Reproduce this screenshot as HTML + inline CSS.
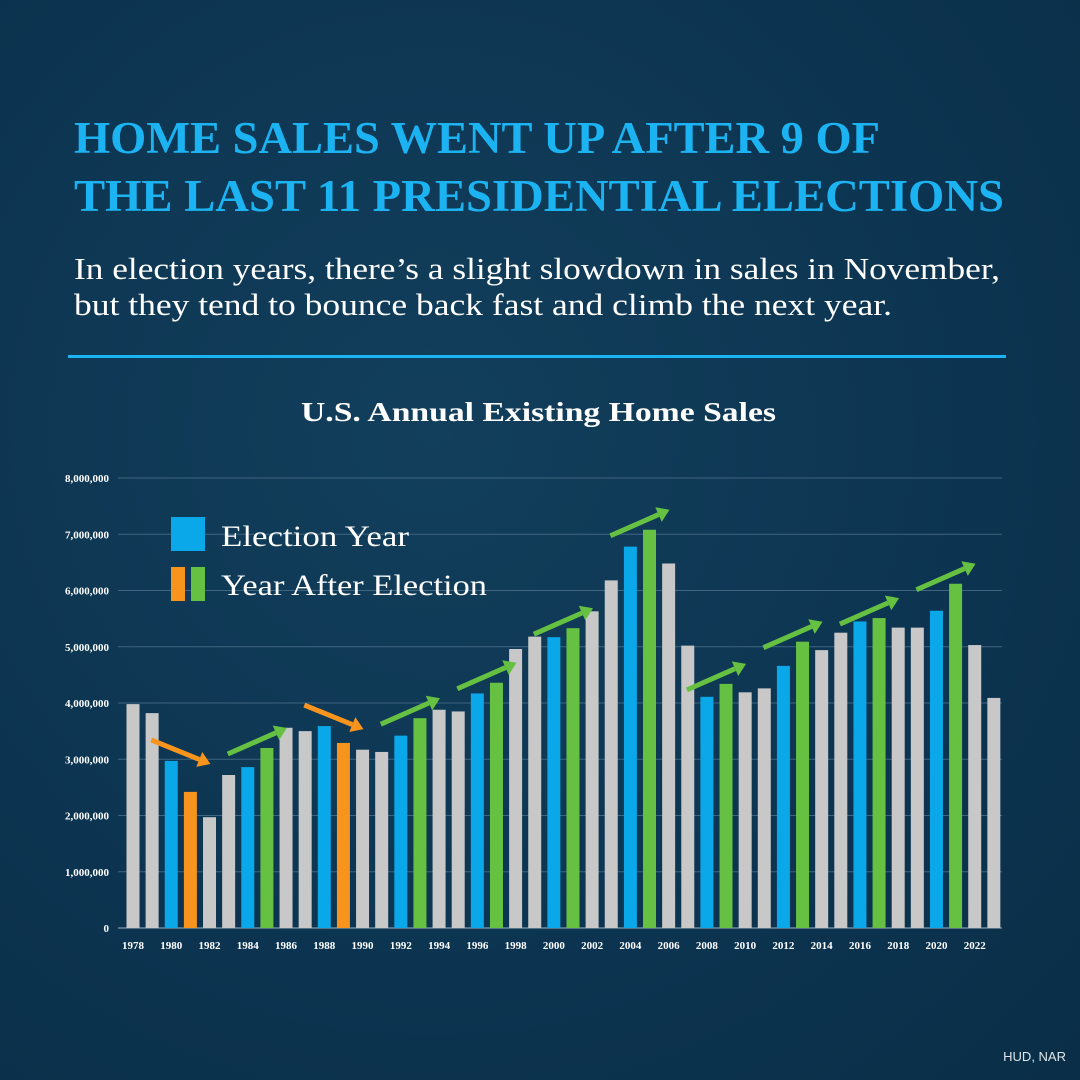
<!DOCTYPE html>
<html><head><meta charset="utf-8"><style>
html,body{margin:0;padding:0}
body{width:1080px;height:1080px;overflow:hidden;background:radial-gradient(ellipse at 40% 40%,#123f5c 0%,#0c3450 60%,#0a2e47 100%);font-family:"Liberation Serif",serif;position:relative}
.rule{position:absolute;left:68px;top:355px;width:938px;height:3px;background:#1cb3f2}
.src{position:absolute;right:14px;bottom:16px;color:#dfe6ea;font-family:"Liberation Sans",sans-serif;font-size:13px}
svg{position:absolute;left:0;top:0}
</style></head><body>
<div class="rule"></div>
<div class="src">HUD, NAR</div>
<svg width="1080" height="360" style="font-family:'Liberation Serif',serif">
<text x="74" y="153" fill="#1cb3f2" font-size="45" font-weight="bold" textLength="806" lengthAdjust="spacingAndGlyphs">HOME SALES WENT UP AFTER 9 OF</text>
<text x="74" y="211" fill="#1cb3f2" font-size="45" font-weight="bold" textLength="930" lengthAdjust="spacingAndGlyphs">THE LAST 11 PRESIDENTIAL ELECTIONS</text>
<text x="74" y="279" fill="#fff" font-size="31" textLength="926" lengthAdjust="spacingAndGlyphs">In election years, there’s a slight slowdown in sales in November,</text>
<text x="74" y="315" fill="#fff" font-size="31" textLength="818" lengthAdjust="spacingAndGlyphs">but they tend to bounce back fast and climb the next year.</text>
</svg>
<svg id="chart" width="1080" height="1080"></svg>
<script>
const years=[];for(let y=1978;y<=2023;y++)years.push(y);
const sales=[3.98,3.82,2.97,2.42,1.97,2.72,2.86,3.20,3.56,3.50,3.59,3.29,3.17,3.13,3.42,3.73,3.88,3.85,4.17,4.36,4.96,5.18,5.17,5.33,5.63,6.18,6.78,7.08,6.48,5.02,4.11,4.34,4.19,4.26,4.66,5.09,4.94,5.25,5.45,5.51,5.34,5.34,5.64,6.12,5.03,4.09];
const electionYears=[1980,1984,1988,1992,1996,2000,2004,2008,2012,2016,2020];
const declineAfter=[1981,1989];
const yTicks=[0,1,2,3,4,5,6,7,8];
const NS="http://www.w3.org/2000/svg";
const svg=document.getElementById('chart');
const x0=133,step=19.13,bw=13,yBase=928,pxPerM=56.25;
const X=i=>x0+i*step;
const Y=v=>yBase-v*pxPerM;
function mk(tag,attrs){const e=document.createElementNS(NS,tag);for(const k in attrs)e.setAttribute(k,attrs[k]);svg.appendChild(e);return e;}
let t=mk('text',{x:301,y:421,fill:'#fff','font-size':27,'font-weight':'bold','font-family':'Liberation Serif, serif',textLength:475,lengthAdjust:'spacingAndGlyphs'});
t.textContent='U.S. Annual Existing Home Sales';


yTicks.forEach(v=>{
 const g=mk('line',{x1:118,x2:1002,y1:Y(v),y2:Y(v),stroke:v===0?'#9fb3c0':'#3f6580','stroke-width':1});
 
 
 const l=mk('text',{x:109,y:Y(v)+4,'text-anchor':'end',fill:'#fff','font-size':11,'font-weight':'bold','font-family':'Liberation Serif, serif'});
 l.textContent=(v*1000000).toLocaleString('en-US');
 
 
});
years.forEach((yr,i)=>{
 let c='#c8c8c8';
 if(electionYears.includes(yr))c='#0aa8e8';
 else if(electionYears.includes(yr-1))c=declineAfter.includes(yr)?'#f7941d':'#66c142';
 const r=mk('rect',{x:X(i)-bw/2,y:Y(sales[i]),width:bw,height:sales[i]*pxPerM,fill:c});
 
 
 if(yr%2===0){
  const l=mk('text',{x:X(i),y:949,'text-anchor':'middle',fill:'#fff','font-size':11,'font-weight':'bold','font-family':'Liberation Serif, serif'});
  l.textContent=yr;
  
  
 }
});
electionYears.forEach(ey=>{
 const i=years.indexOf(ey);if(i<0||i+1>=years.length)return;
 const down=declineAfter.includes(ey+1);
 const col=down?'#f7941d':'#66c142';
 const xs=X(i)-20,xe=X(i+1)+20;
 let ys,ye;
 if(down){ys=Y(sales[i])-21;ye=ys+24;}
 else{ye=Y(sales[i+1])-20;ys=ye+26;}
 const ang=Math.atan2(ye-ys,xe-xs);
 const hx=xe-12*Math.cos(ang),hy=ye-12*Math.sin(ang);
 const ln=mk('line',{x1:xs,y1:ys,x2:hx,y2:hy,stroke:col,'stroke-width':5});
 
 
 const px=-Math.sin(ang),py=Math.cos(ang);
 const hd=mk('polygon',{points:`${xe},${ye} ${hx+8*px},${hy+8*py} ${hx-8*px},${hy-8*py}`,fill:col});
 
 
});
let lg=mk('rect',{x:171,y:517,width:34,height:34,fill:'#0aa8e8'});


lg=mk('rect',{x:171,y:567,width:14,height:34,fill:'#f7941d'});


lg=mk('rect',{x:191,y:567,width:14,height:34,fill:'#66c142'});


let lt=mk('text',{x:221,y:546,fill:'#fff','font-size':30,'font-family':'Liberation Serif, serif',textLength:188,lengthAdjust:'spacingAndGlyphs'});
lt.textContent='Election Year';


lt=mk('text',{x:221,y:595,fill:'#fff','font-size':30,'font-family':'Liberation Serif, serif',textLength:266,lengthAdjust:'spacingAndGlyphs'});
lt.textContent='Year After Election';


</script>
</body></html>
